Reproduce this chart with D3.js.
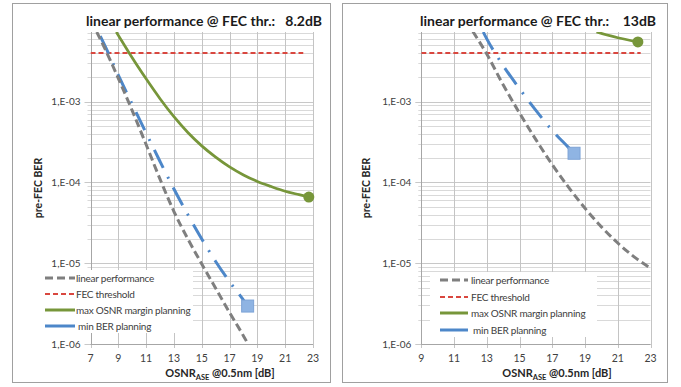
<!DOCTYPE html>
<html>
<head>
<meta charset="utf-8">
<script src="https://cdn.jsdelivr.net/npm/d3@7/dist/d3.min.js"></script>
<style>
  body { margin: 0; background: #fff; }
  svg { font-family: Lato, "Noto Sans", sans-serif; }
</style>
</head>
<body>
<svg id="chart" width="681" height="387"></svg>
<script>
// values, [OSNR in dB, pre-FEC BER]
const fecThreshold = 4.0e-3;
const yTickValues = [1e-3, 1e-4, 1e-5, 1e-6];
const yTickLabels = ["1,E-03", "1,E-04", "1,E-05", "1,E-06"];
const xTicksLeft = [7, 9, 11, 13, 15, 17, 19, 21, 23];
const xTicksRight = [9, 11, 13, 15, 17, 19, 21, 23];
const titles = ["linear performance @ FEC thr.:   8.2dB", "linear performance @ FEC thr.:    13dB"];
const legendLabels = ["linear performance", "FEC threshold", "max OSNR margin planning", "min BER planning"];

const fecLeft = [7, 22.3];
const fecRight = [9, 22.4];

const linearLeft = [
  [7.45, 7.3e-3], [8, 4.68e-3], [9, 1.95e-3], [10, 7.76e-4], [11, 2.95e-4], [12, 1.1e-4],
  [13, 4.37e-5], [14, 2.0e-5], [15, 9.8e-6], [16, 4.9e-6], [17, 2.45e-6], [18, 1.26e-6], [18.3, 1.02e-6]
];
const marginLeft = [
  [8.85, 7.3e-3], [9.75, 4.1e-3], [10, 3.5e-3], [11, 1.92e-3], [12, 1.09e-3], [13, 6.52e-4],
  [14, 4.16e-4], [15, 2.84e-4], [16, 2.06e-4], [17, 1.56e-4], [18, 1.24e-4], [19, 1.03e-4],
  [20, 8.9e-5], [21, 7.8e-5], [22, 7.06e-5], [22.7, 6.6e-5]
];
const minBerLeft = [
  [7.7, 6.5e-3], [8, 5.1e-3], [9, 2.14e-3], [10, 9.3e-4], [11, 4.1e-4], [12, 1.82e-4],
  [13, 8.3e-5], [14, 4.0e-5], [15, 2.0e-5], [16, 1.05e-5], [17, 5.9e-6], [18, 3.5e-6], [18.3, 2.95e-6]
];

const linearRight = [
  [12.15, 7.4e-3], [13, 3.89e-3], [14, 1.62e-3], [15, 7.24e-4], [16, 3.39e-4], [17, 1.66e-4],
  [18, 8.7e-5], [19, 4.79e-5], [20, 2.82e-5], [21, 1.78e-5], [22, 1.2e-5], [23, 8.7e-6]
];
const marginRight = [[19.7, 7.3e-3], [21, 6.2e-3], [22.23, 5.5e-3]];
const minBerRight = [
  [12.78, 7.3e-3], [13, 6.0e-3], [14, 2.8e-3], [15, 1.45e-3], [16, 7.8e-4], [17, 4.4e-4],
  [18, 2.7e-4], [18.33, 2.3e-4]
];

const svg = d3.select("#chart");

const colors = { linear: "#7f7f7f", fec: "#d9473f", margin: "#77963a", minBer: "#4d87c9" };

function drawPanel(p) {
  const x = d3.scaleLinear().domain([p.xTicks[0], 23]).range([p.left, p.right]);
  const y = d3.scaleLog().domain([1e-6, 7.3e-3]).range([344, 32]);
  const g = svg.append("g");

  // chart frame
  g.append("rect")
    .attr("x", p.frame[0] + 0.5).attr("y", 3.5)
    .attr("width", p.frame[1] - p.frame[0]).attr("height", 379)
    .attr("fill", "#fff").attr("stroke", "#a0a0a0");

  // minor + major horizontal grid
  const minors = [];
  for (let e = -6; e <= -3; e++) {
    for (let m = 2; m <= 9; m++) {
      const v = m * Math.pow(10, e);
      if (v <= 7.3e-3) minors.push(v);
    }
  }
  g.selectAll(".minor").data(minors).join("line")
    .attr("x1", p.left - 3).attr("x2", p.right)
    .attr("y1", d => Math.round(y(d)) + 0.5).attr("y2", d => Math.round(y(d)) + 0.5)
    .attr("stroke", "#d9d9d9");
  g.selectAll(".major").data(yTickValues).join("line")
    .attr("x1", p.left - 6).attr("x2", p.right)
    .attr("y1", d => Math.round(y(d)) + 0.5).attr("y2", d => Math.round(y(d)) + 0.5)
    .attr("stroke", "#c8c8c8");

  // vertical grid
  g.selectAll(".vgrid").data(p.xTicks).join("line")
    .attr("x1", d => Math.round(x(d)) + 0.5).attr("x2", d => Math.round(x(d)) + 0.5)
    .attr("y1", 32).attr("y2", 348)
    .attr("stroke", "#c4c4c4");

  // axes lines
  g.append("line").attr("x1", Math.round(p.left) + 0.5).attr("x2", Math.round(p.left) + 0.5)
    .attr("y1", 32).attr("y2", 344.5).attr("stroke", "#a6a6a6");
  g.append("line").attr("x1", p.left).attr("x2", p.right)
    .attr("y1", 344.5).attr("y2", 344.5).attr("stroke", "#a6a6a6");

  // tick labels
  g.selectAll(".ylab").data(yTickValues).join("text")
    .attr("x", p.left - 10).attr("y", d => y(d)).attr("dy", "0.35em")
    .attr("text-anchor", "end").attr("font-size", 10).attr("fill", "#404040")
    .text((d, i) => yTickLabels[i]);
  g.selectAll(".xlab").data(p.xTicks).join("text")
    .attr("x", d => x(d)).attr("y", 362)
    .attr("text-anchor", "middle").attr("font-size", 10.5).attr("fill", "#404040")
    .text(d => d);

  // titles
  g.append("text").attr("x", p.titleX).attr("y", 26)
    .attr("text-anchor", "middle").attr("font-size", 14).attr("font-weight", "bold")
    .attr("fill", "#1a1a1a").style("white-space", "pre")
    .text(p.title);

  const xt = g.append("text").attr("x", p.xTitleX).attr("y", 377)
    .attr("text-anchor", "middle").attr("font-size", 11).attr("font-weight", "bold")
    .attr("fill", "#262626");
  xt.append("tspan").text("OSNR");
  xt.append("tspan").attr("font-size", 7.5).attr("dy", 3).text("ASE");
  xt.append("tspan").attr("dy", -3).text(" @0.5nm [dB]");

  g.append("text")
    .attr("transform", `translate(${p.yTitleX},188) rotate(-90)`)
    .attr("text-anchor", "middle").attr("font-size", 10.5).attr("font-weight", "bold")
    .attr("fill", "#262626").text("pre-FEC BER");

  // series
  const clipId = "clip" + p.id;
  svg.append("clipPath").attr("id", clipId)
    .append("rect").attr("x", p.left).attr("y", 32).attr("width", p.right - p.left + 8).attr("height", 312);
  const plot = g.append("g").attr("clip-path", `url(#${clipId})`);

  const line = d3.line().x(d => x(d[0])).y(d => y(d[1])).curve(d3.curveMonotoneX);

  plot.append("path").datum(p.fec.map(v => [v, fecThreshold]))
    .attr("d", line).attr("fill", "none").attr("stroke", colors.fec)
    .attr("stroke-width", 2).attr("stroke-dasharray", "5,3");
  plot.append("path").datum(p.margin)
    .attr("d", line).attr("fill", "none").attr("stroke", colors.margin).attr("stroke-width", 2.75);
  plot.append("path").datum(p.minBer)
    .attr("d", line).attr("fill", "none").attr("stroke", colors.minBer)
    .attr("stroke-width", 3).attr("stroke-dasharray", "20,10,2,10");
  plot.append("path").datum(p.linear)
    .attr("d", line).attr("fill", "none").attr("stroke", colors.linear)
    .attr("stroke-width", 3).attr("stroke-dasharray", "8,4");

  const lastM = p.margin[p.margin.length - 1];
  g.append("circle").attr("cx", x(lastM[0])).attr("cy", y(lastM[1])).attr("r", 5.5)
    .attr("fill", colors.margin);
  const lastB = p.minBer[p.minBer.length - 1];
  g.append("rect").attr("x", x(lastB[0]) - 6).attr("y", y(lastB[1]) - 6)
    .attr("width", 12).attr("height", 12)
    .attr("fill", "#8fb4e3").attr("stroke", "#7da3d6");

  // legend
  const lg = g.append("g");
  lg.append("rect").attr("x", p.legend.x).attr("y", p.legend.y)
    .attr("width", p.legend.w).attr("height", p.legend.h).attr("fill", "#fff");
  const styles = [
    { c: colors.linear, w: 3, dash: "8,4" },
    { c: colors.fec, w: 2, dash: "5,3" },
    { c: colors.margin, w: 3, dash: null },
    { c: colors.minBer, w: 3, dash: null }
  ];
  legendLabels.forEach((lab, i) => {
    const yy = p.legend.rows[i];
    lg.append("line").attr("x1", p.legend.s0).attr("x2", p.legend.s1)
      .attr("y1", yy).attr("y2", yy)
      .attr("stroke", styles[i].c).attr("stroke-width", styles[i].w)
      .attr("stroke-dasharray", styles[i].dash);
    lg.append("text").attr("x", p.legend.t + (i === 3 ? 2 : 0)).attr("y", yy).attr("dy", "0.35em")
      .attr("font-size", 10).attr("letter-spacing", -0.25).attr("fill", "#404040").text(lab);
  });
}

drawPanel({
  id: "L", frame: [12, 330], left: 90.5, right: 313, xTicks: xTicksLeft,
  title: titles[0], titleX: 204, xTitleX: 220, yTitleX: 42,
  fec: fecLeft, linear: linearLeft, margin: marginLeft, minBer: minBerLeft,
  legend: { x: 43, y: 270, w: 150, h: 63, s0: 45, s1: 75, t: 76, rows: [278, 294, 310, 326] }
});
drawPanel({
  id: "R", frame: [342, 667], left: 421.3, right: 650.5, xTicks: xTicksRight,
  title: titles[1], titleX: 538, xTitleX: 557, yTitleX: 370,
  fec: fecRight, linear: linearRight, margin: marginRight, minBer: minBerRight,
  legend: { x: 430, y: 272, w: 167, h: 65, s0: 440, s1: 468, t: 471, rows: [280, 297, 313, 330] }
});
</script>
</body>
</html>
